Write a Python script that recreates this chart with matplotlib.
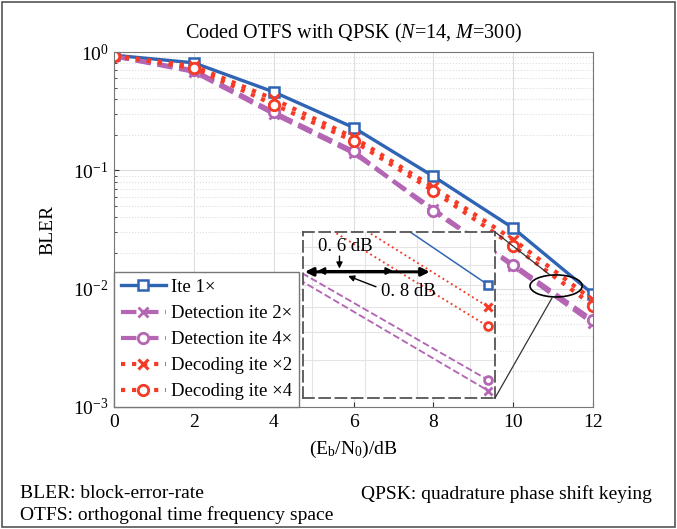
import matplotlib
matplotlib.use("Agg")
import matplotlib.pyplot as plt
from matplotlib.patches import Ellipse, Rectangle
from matplotlib.lines import Line2D

plt.rcParams['font.family'] = ['Liberation Serif', 'DejaVu Serif']
plt.rcParams['mathtext.fontset'] = 'custom'
plt.rcParams['mathtext.rm'] = 'Liberation Serif'
plt.rcParams['mathtext.it'] = 'Liberation Serif:italic'

snr = [0, 2, 4, 6, 8, 10, 12]
ite1 = [0.94, 0.81, 0.46, 0.23, 0.089, 0.0325, 0.0090]
det2 = [0.92, 0.68, 0.30, 0.14, 0.047, 0.0155, 0.0051]
det4 = [0.92, 0.70, 0.31, 0.145, 0.045, 0.016, 0.0054]
dec2 = [0.93, 0.76, 0.40, 0.19, 0.072, 0.026, 0.0080]
dec4 = [0.93, 0.73, 0.36, 0.177, 0.067, 0.023, 0.0072]
labels = ["Ite 1\u00d7", "Detection ite 2\u00d7", "Detection ite 4\u00d7",
          "Decoding ite \u00d72", "Decoding ite \u00d74"]

blue = "#2f64b4"
purple = "#b466b4"
red = "#f53a26"

W, H = 677, 529
fig = plt.figure(figsize=(6.77, 5.29), dpi=100)
fig.add_artist(Rectangle((0.003, 0.003), 0.994, 0.994, transform=fig.transFigure,
                         fill=False, edgecolor="#555555", lw=1.2))

ax = fig.add_axes([114 / W, 1 - 407 / H, 479 / W, 355 / H])


def draw(a, lw_scale=1.0, ms_scale=1.0):
    a.plot(snr, ite1, '-', color=blue, lw=2.4 * lw_scale, marker='s',
           ms=7.5 * ms_scale, mfc='white', mec=blue, mew=1.8, label=labels[0])
    a.plot(snr, det2, '--', color=purple, lw=3.0 * lw_scale, marker='x',
           ms=7.5 * ms_scale, mew=2, label=labels[1])
    a.plot(snr, det4, '--', color=purple, lw=3.0 * lw_scale, marker='o',
           ms=7.5 * ms_scale, mfc='white', mew=2, label=labels[2])
    a.plot(snr, dec2, ':', color=red, lw=3.0 * lw_scale, marker='x',
           ms=7.5 * ms_scale, mew=2.2, label=labels[3])
    a.plot(snr, dec4, ':', color=red, lw=3.0 * lw_scale, marker='o',
           ms=7.5 * ms_scale, mfc='white', mew=2, label=labels[4])


draw(ax)
ax.set_yscale('log')
ax.set_xlim(0, 12)
ax.set_ylim(1e-3, 1)
ax.set_xticks(snr)
ax.grid(True, which='major', color='#dddddd', lw=0.8)
ax.grid(True, which='minor', axis='y', color='#dddddd', lw=0.8, ls=':')
ax.tick_params(which='both', direction='in', labelsize=14, colors='#333333')
ax.tick_params(axis='x', labelcolor='black', pad=5)
ax.tick_params(axis='y', labelcolor='black', pad=4)
for s in ax.spines.values():
    s.set_color('#777777')
ax.set_title("Coded OTFS with QPSK ($N$=14, $M$=300)", fontsize=14.5, pad=10)
ax.set_xlabel("(E$_\\mathrm{b}$/N$_0$)/dB", fontsize=14, labelpad=6)
ax.set_ylabel("BLER", fontsize=14, labelpad=12)
leg = ax.legend(loc='lower left', borderaxespad=0, fontsize=13.5, fancybox=False,
                handlelength=2.4, handletextpad=0.3, labelspacing=0.48,
                borderpad=0.35, framealpha=1)
leg.get_frame().set_edgecolor('#777777')

ax.add_patch(Ellipse((0.923, 0.341), 0.109, 0.062, transform=ax.transAxes,
                     fill=False, edgecolor='black', lw=1.2, zorder=6))

# zoomed inset
axin = fig.add_axes([303 / W, 1 - 398 / H, 192 / W, 166 / H])
draw(axin, lw_scale=0.45, ms_scale=0.75)
axin.set_yscale('log')
axin.set_xlim(10.95, 12.04)
axin.set_ylim(0.0049, 0.01195)
axin.set_xticks([11.0, 11.3, 11.6, 11.9])
axin.set_yticks([0.006, 0.007, 0.008, 0.009, 0.010, 0.011], minor=False)
axin.set_yticks([], minor=True)
axin.grid(True, color='#e4e4e4', lw=0.8)
axin.tick_params(length=0, labelbottom=False, labelleft=False)
for s in axin.spines.values():
    s.set_color('#555555')
    s.set_linestyle((0, (6, 3)))
    s.set_linewidth(1.3)

af = 'axes fraction'
axin.annotate('', xy=(0.01, 0.76), xytext=(0.66, 0.76), xycoords=af,
              arrowprops=dict(arrowstyle='<|-|>', lw=2.2, color='black',
                              mutation_scale=12, shrinkA=0, shrinkB=0))
axin.annotate('', xy=(0.075, 0.765), xytext=(0.47, 0.765), xycoords=af,
              arrowprops=dict(arrowstyle='<|-|>', lw=1.5, color='black',
                              mutation_scale=10, shrinkA=0, shrinkB=0))
axin.text(0.22, 0.91, '0. 6 dB', transform=axin.transAxes, ha='center',
          va='center', fontsize=13.5)
axin.annotate('', xy=(0.19, 0.78), xytext=(0.19, 0.855), xycoords=af,
              arrowprops=dict(arrowstyle='-|>', lw=1, color='black',
                              mutation_scale=9, shrinkA=0, shrinkB=0))
axin.text(0.55, 0.64, '0. 8 dB', transform=axin.transAxes, ha='center',
          va='center', fontsize=13.5)
axin.annotate('', xy=(0.235, 0.735), xytext=(0.38, 0.67), xycoords=af,
              arrowprops=dict(arrowstyle='-|>', lw=1, color='black',
                              mutation_scale=9, shrinkA=0, shrinkB=0))

fig.add_artist(Line2D([495 / W, 550 / W], [1 - 232 / H, 1 - 275 / H],
                      transform=fig.transFigure, color='#333333', lw=0.9))
fig.add_artist(Line2D([495 / W, 552 / W], [1 - 398 / H, 1 - 298 / H],
                      transform=fig.transFigure, color='#333333', lw=0.9))

fig.text(20 / W, 1 - 494 / H, "BLER: block-error-rate", fontsize=14, va='center')
fig.text(361 / W, 1 - 494 / H, "QPSK: quadrature phase shift keying", fontsize=14, va='center')
fig.text(20 / W, 1 - 515 / H, "OTFS: orthogonal time frequency space", fontsize=14, va='center')

fig.savefig("out.png", dpi=100)
